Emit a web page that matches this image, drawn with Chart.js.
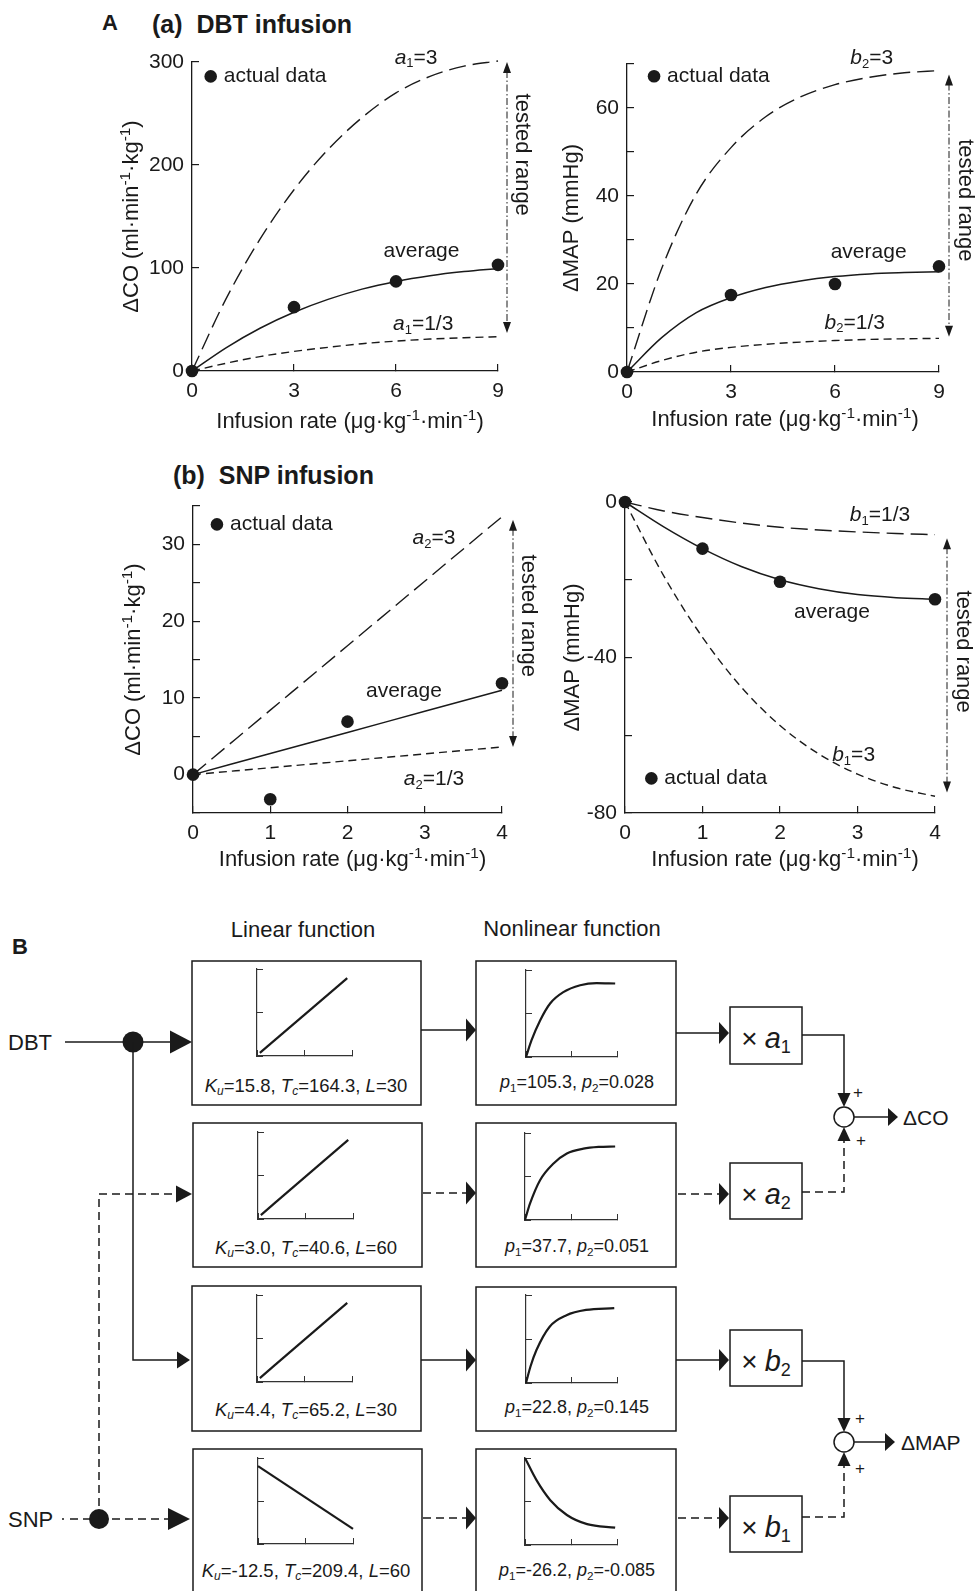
<!DOCTYPE html>
<html><head><meta charset="utf-8">
<script src="https://cdn.jsdelivr.net/npm/chart.js@4.4.0/dist/chart.umd.min.js"></script>
<style>
html,body{margin:0;padding:0;background:#fff;}
#page{position:relative;width:977px;height:1591px;overflow:hidden;background:#fff;}
canvas{position:absolute;}
#ov{position:absolute;left:0;top:0;}
</style></head>
<body><div id="page"><svg id="ov" width="977" height="1591" xmlns="http://www.w3.org/2000/svg"></svg></div>
<script>
// ---------------- DATA ----------------
// (a) DBT infusion
const dbtX      = [0, 1, 2, 3, 4, 5, 6, 7, 8, 9];
const dbtCoAvg  = [0, 22.5, 41.5, 57, 69.5, 79.5, 87, 92.5, 96.5, 99.5];
const dbtCoHi   = [0, 70, 128, 176, 215, 246, 270, 286, 296, 301];      // a1=3
const dbtCoLo   = [0, 7.5, 14, 19, 23, 26.5, 29, 31, 32.3, 33.3];        // a1=1/3
const dbtMapAvg = [0, 7.8, 13.5, 16.9, 19.2, 20.7, 21.7, 22.3, 22.6, 22.8];
const dbtMapHi  = [0, 23.5, 40.5, 51, 58, 62.5, 65.3, 67, 68, 68.5];     // b2=3
const dbtMapLo  = [0, 2.6, 4.5, 5.6, 6.3, 6.8, 7.15, 7.4, 7.55, 7.65];   // b2=1/3
const dbtDotX   = [0, 3, 6, 9];
const dbtCoDots = [0, 62, 87, 103];
const dbtMapDots= [0, 17.5, 20, 24];
// (b) SNP infusion
const snpCoX    = [0, 1, 2, 3, 4];
const snpCoAvg  = [0, 2.75, 5.5, 8.25, 11];
const snpCoHi   = [0, 8.4, 16.8, 25.2, 33.6];   // a2=3
const snpCoLo   = [0, 0.9, 1.8, 2.7, 3.6];      // a2=1/3
const snpMapX   = [0, 0.5, 1, 1.5, 2, 2.5, 3, 3.5, 4];
const snpMapAvg = [0, -6.4, -12, -16.6, -20, -22.3, -23.8, -24.6, -25];
const snpMapLo  = [0, -2.3, -4, -5.4, -6.5, -7.2, -7.7, -8.1, -8.4];        // b1=1/3
const snpMapHi  = [0, -19, -34.8, -47.6, -57.5, -64.8, -70, -73.5, -75.7];  // b1=3
const snpDotX   = [0, 1, 2, 4];
const snpCoDots = [0, -3.2, 6.9, 11.9];
const snpMapDots= [0, -12, -20.5, -25];
// Tick settings
const dbtXTicks = {min: 0, max: 9, step: 3};
const snpXTicks = {min: 0, max: 4, step: 1};
// Part B inset curves (normalised 0..2 axes)
const linX = [0.06, 1.9];
const lin1Y = [0.07, 1.79];
const lin2Y = [0.09, 1.82];
const lin3Y = [0.09, 1.82];
const lin4X = [0, 2.0];
const lin4Y = [1.81, 0.35];
const nl1X = [0, 0.12, 0.31, 0.53, 0.82, 1.19, 1.55, 1.96];
const nl1Y = [0, 0.38, 0.84, 1.23, 1.49, 1.65, 1.70, 1.69];
const nl2X = [0, 0.11, 0.33, 0.62, 0.91, 1.27, 1.6, 1.96];
const nl2Y = [0, 0.38, 0.92, 1.30, 1.53, 1.64, 1.68, 1.69];
const nl3X = [0, 0.1, 0.23, 0.52, 0.89, 1.32, 1.94];
const nl3Y = [0, 0.38, 0.75, 1.28, 1.54, 1.66, 1.70];
const nl4X = [0, 0.25, 0.55, 0.91, 1.35, 1.96];
const nl4Y = [2.0, 1.49, 1.03, 0.69, 0.48, 0.40];

// ---------------- STYLE ----------------
const FONT = '"Liberation Sans", Arial, Helvetica, sans-serif';
const INK = '#1a1a1a';
const FS = 21;     // ticks, curve labels
const TFS = 22;    // axis titles
const page = document.getElementById('page');

function pts(xs, ys){ return xs.map((x,i)=>({x:x, y:ys[i]})); }

function segFont(k, size){
  const s = (k==='sub'||k==='isub') ? size*0.62 : (k==='sup' ? size*0.7 : size);
  const it = (k==='i'||k==='isub') ? 'italic ' : '';
  return it + s + 'px ' + FONT;
}
function drawRich(ctx, segs, x, y, size, align){
  ctx.textBaseline = 'middle'; ctx.textAlign = 'left';
  let w = 0;
  for (const [t,k] of segs){ ctx.font = segFont(k,size); w += ctx.measureText(t).width; }
  let cx = align==='center' ? x - w/2 : (align==='right' ? x - w : x);
  for (const [t,k] of segs){
    ctx.font = segFont(k,size);
    const dy = (k==='sub'||k==='isub') ? size*0.28 : (k==='sup' ? -size*0.3 : 0);
    ctx.fillText(t, cx, y+dy);
    cx += ctx.measureText(t).width;
  }
}

const CO_TITLE  = [['ΔCO (ml·min','n'],['-1','sup'],['·kg','n'],['-1','sup'],[')','n']];
const MAP_TITLE = [['ΔMAP (mmHg)','n']];
const X_TITLE   = [['Infusion rate (μg·kg','n'],['-1','sup'],['·min','n'],['-1','sup'],[')','n']];

const extrasPlugin = {
  id: 'extras',
  afterDraw(chart, args, o){
    const ctx = chart.ctx, xs = chart.scales.x, ys = chart.scales.y, ca = chart.chartArea;
    ctx.save();
    ctx.fillStyle = INK; ctx.strokeStyle = INK;
    // axis titles
    ctx.save();
    ctx.translate(ca.left - o.yTitleDx, (ca.top+ca.bottom)/2);
    ctx.rotate(-Math.PI/2);
    drawRich(ctx, o.yTitle, 0, 0, TFS, 'center');
    ctx.restore();
    drawRich(ctx, X_TITLE, (ca.left+ca.right)/2 + o.xTitleShift, ca.bottom + o.xTitleDy, TFS, 'center');
    // curve labels
    for (const l of o.labels){
      drawRich(ctx, l.segs, xs.getPixelForValue(l.x), ys.getPixelForValue(l.y), FS, 'center');
    }
    // legend marker
    const lx = xs.getPixelForValue(o.legend.x), ly = ys.getPixelForValue(o.legend.y);
    ctx.beginPath(); ctx.arc(lx, ly, 6.3, 0, Math.PI*2); ctx.fill();
    drawRich(ctx, [['actual data','n']], lx + 13, ly, FS, 'left');
    // tested range arrow
    const r = o.range;
    const ax = ca.right + r.dx;
    const yA = Math.min(ys.getPixelForValue(r.y1), ys.getPixelForValue(r.y2));
    const yB = Math.max(ys.getPixelForValue(r.y1), ys.getPixelForValue(r.y2));
    ctx.lineWidth = 1;
    ctx.setLineDash([7,2.5,1.5,2.5]);
    ctx.beginPath(); ctx.moveTo(ax, yA+9); ctx.lineTo(ax, yB-9); ctx.stroke();
    ctx.setLineDash([]);
    ctx.beginPath(); ctx.moveTo(ax, yA); ctx.lineTo(ax-4, yA+11); ctx.lineTo(ax+4, yA+11); ctx.closePath(); ctx.fill();
    ctx.beginPath(); ctx.moveTo(ax, yB); ctx.lineTo(ax-4, yB-11); ctx.lineTo(ax+4, yB-11); ctx.closePath(); ctx.fill();
    ctx.save();
    ctx.translate(ca.right + r.tdx, ys.getPixelForValue(r.ty));
    ctx.rotate(Math.PI/2);
    drawRich(ctx, [['tested range','n']], 0, 0, 22, 'center');
    ctx.restore();
    ctx.restore();
  }
};

function axisCfg(isY, min, max, step, labelEvery, size){
  return {
    type: 'linear', position: isY ? 'left' : 'bottom', min: min, max: max,
    afterFit: s => { if (isY) s.width = size; else s.height = size; },
    ticks: { stepSize: step, autoSkip: false, maxRotation: 0, padding: 15, color: INK,
      font: {family: FONT, size: FS},
      callback: v => (Math.abs(v % labelEvery) < 1e-9 ? String(v) : '') },
    grid: { display: true, drawOnChartArea: false, drawTicks: true, tickLength: -7, color: INK, lineWidth: 1.2 },
    border: { display: true, color: INK, width: 1.3 }
  };
}

function curveDS(xs, ys, dash, w){
  return { data: pts(xs, ys), showLine: true, borderColor: INK, borderWidth: w, borderDash: dash,
    pointRadius: 0, cubicInterpolationMode: 'monotone', clip: false, fill: false };
}
function dotsDS(xs, ys){
  return { data: pts(xs, ys), showLine: false, pointRadius: 6.3, pointBackgroundColor: INK,
    pointBorderWidth: 0, borderColor: INK, clip: false };
}

function makeChart(box, xAx, yAx, datasets, extras){
  const c = document.createElement('canvas');
  c.width = box.w; c.height = box.h;
  c.style.left = box.l + 'px'; c.style.top = box.t + 'px';
  c.style.width = box.w + 'px'; c.style.height = box.h + 'px';
  page.appendChild(c);
  new Chart(c.getContext('2d'), {
    type: 'scatter',
    data: { datasets: datasets },
    options: {
      responsive: false, animation: false, devicePixelRatio: 1,
      layout: { padding: { left: 0, top: box.pt, right: box.pr, bottom: 0 } },
      plugins: { legend: {display: false}, tooltip: {enabled: false}, extras: extras },
      scales: { x: xAx, y: yAx }
    },
    plugins: [extrasPlugin]
  });
}

const LONG = [17,7], SHORT = [8,5];
function lab(letter, idx, rest){ return [[letter,'i'],[idx,'sub'],[rest,'n']]; }

// (a) left: ΔCO, DBT
makeChart({l:90, t:30, w:450, h:420, pt:32, pr:42},
  axisCfg(false, dbtXTicks.min, dbtXTicks.max, dbtXTicks.step, 3, 79),
  axisCfg(true, 0, 300, 100, 100, 102),
  [dotsDS(dbtDotX, dbtCoDots), curveDS(dbtX, dbtCoAvg, [], 1.5), curveDS(dbtX, dbtCoHi, LONG, 1.4), curveDS(dbtX, dbtCoLo, SHORT, 1.4)],
  { yTitle: CO_TITLE, yTitleDx: 60, xTitleDy: 51, xTitleShift: 5,
    labels: [ {segs: lab('a','1','=3'), x: 6.59, y: 304},
              {segs: [['average','n']], x: 6.75, y: 116},
              {segs: lab('a','1','=1/3'), x: 6.8, y: 45} ],
    legend: {x: 0.55, y: 286},
    range: {y1: 300, y2: 37, dx: 9, ty: 210, tdx: 24} });

// (a) right: ΔMAP, DBT
makeChart({l:540, t:30, w:437, h:420, pt:34, pr:38},
  axisCfg(false, dbtXTicks.min, dbtXTicks.max, dbtXTicks.step, 3, 78),
  axisCfg(true, 0, 70, 10, 20, 87),
  [dotsDS(dbtDotX, dbtMapDots), curveDS(dbtX, dbtMapAvg, [], 1.5), curveDS(dbtX, dbtMapHi, LONG, 1.4), curveDS(dbtX, dbtMapLo, SHORT, 1.4)],
  { yTitle: MAP_TITLE, yTitleDx: 55, xTitleDy: 48, xTitleShift: 2,
    labels: [ {segs: lab('b','2','=3'), x: 7.06, y: 71.3},
              {segs: [['average','n']], x: 6.97, y: 27.3},
              {segs: lab('b','2','=1/3'), x: 6.57, y: 11.2} ],
    legend: {x: 0.78, y: 67.2},
    range: {y1: 67.6, y2: 8, dx: 10, ty: 39, tdx: 26} });

// (b) left: ΔCO, SNP
makeChart({l:90, t:460, w:450, h:420, pt:46, pr:38},
  axisCfg(false, snpXTicks.min, snpXTicks.max, snpXTicks.step, 1, 67),
  axisCfg(true, -5, 35, 5, 10, 103),
  [dotsDS(snpDotX, snpCoDots), curveDS(snpCoX, snpCoAvg, [], 1.5), curveDS(snpCoX, snpCoHi, LONG, 1.4), curveDS(snpCoX, snpCoLo, SHORT, 1.4)],
  { yTitle: CO_TITLE, yTitleDx: 59, xTitleDy: 47, xTitleShift: 5,
    labels: [ {segs: lab('a','2','=3'), x: 3.12, y: 30.8},
              {segs: [['average','n']], x: 2.73, y: 10.9},
              {segs: lab('a','2','=1/3'), x: 3.12, y: -0.6} ],
    legend: {x: 0.31, y: 32.6},
    range: {y1: 33.2, y2: 3.6, dx: 11, ty: 20.7, tdx: 26} });

// (b) right: ΔMAP, SNP
makeChart({l:540, t:460, w:437, h:420, pt:42, pr:42},
  axisCfg(false, snpXTicks.min, snpXTicks.max, snpXTicks.step, 1, 67),
  axisCfg(true, -80, 0, 20, 40, 85),
  [dotsDS(snpDotX, snpMapDots), curveDS(snpMapX, snpMapAvg, [], 1.5), curveDS(snpMapX, snpMapLo, LONG, 1.4), curveDS(snpMapX, snpMapHi, SHORT, 1.4)],
  { yTitle: MAP_TITLE, yTitleDx: 52, xTitleDy: 47, xTitleShift: 5,
    labels: [ {segs: lab('b','1','=1/3'), x: 3.29, y: -3.4},
              {segs: [['average','n']], x: 2.67, y: -28.3},
              {segs: lab('b','1','=3'), x: 2.95, y: -65.2} ],
    legend: {x: 0.34, y: -71.1},
    range: {y1: -9.3, y2: -74.7, dx: 12, ty: -38.5, tdx: 28} });

// ---------------- Part B insets ----------------
function inset(ax, top, right, bottom, xs, ys){
  const m = 4;
  const w = right - ax + 2*m, h = bottom - top + 2*m;
  const c = document.createElement('canvas');
  c.width = w; c.height = h;
  c.style.left = (ax - m) + 'px'; c.style.top = (top - m) + 'px';
  c.style.width = w + 'px'; c.style.height = h + 'px';
  page.appendChild(c);
  const ax2 = (isY) => ({
    type: 'linear', position: isY ? 'left' : 'bottom', min: 0, max: 2,
    afterFit: s => { if (isY) s.width = m; else s.height = m; },
    ticks: { display: false, stepSize: 1 },
    grid: { display: true, drawOnChartArea: false, drawTicks: true, tickLength: -6, color: '#333', lineWidth: 1 },
    border: { display: true, color: '#333', width: 1.2 }
  });
  new Chart(c.getContext('2d'), {
    type: 'scatter',
    data: { datasets: [ { data: pts(xs, ys), showLine: true, borderColor: INK, borderWidth: 2.2,
      pointRadius: 0, cubicInterpolationMode: 'monotone', clip: false } ] },
    options: { responsive: false, animation: false, devicePixelRatio: 1,
      layout: { padding: { left: 0, top: m, right: m, bottom: 0 } },
      plugins: { legend: {display: false}, tooltip: {enabled: false} },
      scales: { x: ax2(false), y: ax2(true) } }
  });
}
inset(257, 969, 352, 1056, linX, lin1Y);
inset(258, 1132, 353, 1219, linX, lin2Y);
inset(257, 1295, 352, 1382, linX, lin3Y);
inset(258, 1458, 353, 1544, lin4X, lin4Y);
inset(526, 970, 617, 1057, nl1X, nl1Y);
inset(525, 1133, 617, 1220, nl2X, nl2Y);
inset(526, 1295, 617, 1383, nl3X, nl3Y);
inset(525, 1458, 617, 1545, nl4X, nl4Y);

// ---------------- Overlay (titles + block diagram) ----------------
let s = '';
const SF = "'Liberation Sans', Arial, Helvetica, sans-serif";
function rich(x, y, segs, size, anchor, weight){
  let out = `<text x="${x}" y="${y}" font-family="${SF}" font-size="${size}" text-anchor="${anchor||'start'}" dominant-baseline="central" fill="${INK}" font-weight="${weight||'normal'}">`;
  let shift = 0;
  for (const seg of segs){
    const [t, k, sz] = seg;
    const small = (k==='sub'||k==='sup'||k==='isub');
    const target = (k==='sub'||k==='isub') ? size*0.3 : (k==='sup' ? -size*0.33 : 0);
    const dy = target - shift; shift = target;
    const fsz = sz ? sz : (small ? size*0.65 : size);
    const it = (k==='i'||k==='isub') ? ' font-style="italic"' : '';
    out += `<tspan dy="${dy.toFixed(2)}" font-size="${fsz}"${it}>${t}</tspan>`;
  }
  return out + '</text>';
}
function line(p, dashed){
  s += `<polyline points="${p.map(q=>q.join(',')).join(' ')}" fill="none" stroke="${INK}" stroke-width="1.5"${dashed ? ' stroke-dasharray="8 5"' : ''}/>`;
}
function head(x, y, dir, len, half){
  let p;
  if (dir==='r') p = [[x,y],[x-len,y-half],[x-len,y+half]];
  else if (dir==='d') p = [[x,y],[x-half,y-len],[x+half,y-len]];
  else p = [[x,y],[x-half,y+len],[x+half,y+len]];
  s += `<polygon points="${p.map(q=>q.join(',')).join(' ')}" fill="${INK}"/>`;
}
function rect(x1, y1, x2, y2){
  s += `<rect x="${x1}" y="${y1}" width="${x2-x1}" height="${y2-y1}" fill="none" stroke="${INK}" stroke-width="1.5"/>`;
}

// Part A titles
s += rich(102, 22, [['A','n']], 22, 'start', 'bold');
s += rich(152, 24, [['(a)\u00a0\u00a0DBT infusion','n']], 25, 'start', 'bold');
s += rich(173, 475, [['(b)\u00a0\u00a0SNP infusion','n']], 25, 'start', 'bold');

// Part B
s += rich(12, 946, [['B','n']], 22, 'start', 'bold');
s += rich(303, 929, [['Linear function','n']], 22, 'middle');
s += rich(572, 928, [['Nonlinear function','n']], 22, 'middle');
s += rich(8, 1042, [['DBT','n']], 22, 'start');
s += rich(8, 1519, [['SNP','n']], 22, 'start');

// boxes
rect(192, 961, 421, 1105); rect(193, 1123, 422, 1267); rect(192, 1286, 421, 1431); rect(193, 1449, 422, 1600);
rect(476, 961, 676, 1105); rect(476, 1123, 676, 1267); rect(476, 1287, 676, 1431); rect(476, 1449, 676, 1600);
rect(730, 1007, 802, 1064); rect(730, 1163, 802, 1219); rect(730, 1330, 802, 1386); rect(730, 1496, 802, 1552);

// box labels
const lin = (k, t, l) => [['K','i'],['u','isub'],['='+k+', ','n'],['T','i'],['c','isub'],['='+t+', ','n'],['L','i'],['='+l,'n']];
const nl = (a, b) => [['p','i'],['1','sub'],['='+a+', ','n'],['p','i'],['2','sub'],['='+b,'n']];
s += rich(306, 1085, lin('15.8','164.3','30'), 18.5, 'middle');
s += rich(306, 1247, lin('3.0','40.6','60'), 18.5, 'middle');
s += rich(306, 1409, lin('4.4','65.2','30'), 18.5, 'middle');
s += rich(306, 1570, lin('-12.5','209.4','60'), 18.5, 'middle');
s += rich(577, 1082, nl('105.3','0.028'), 18, 'middle');
s += rich(577, 1246, nl('37.7','0.051'), 18, 'middle');
s += rich(577, 1407, nl('22.8','0.145'), 18, 'middle');
s += rich(577, 1570, nl('-26.2','-0.085'), 18, 'middle');

// multipliers
const mul = (c, i) => [['×','n',28],['\u00a0','n',26],[c,'i'],[i,'sub',18]];
s += rich(766, 1038, mul('a','1'), 29, 'middle');
s += rich(766, 1194, mul('a','2'), 29, 'middle');
s += rich(766, 1361, mul('b','2'), 29, 'middle');
s += rich(766, 1527, mul('b','1'), 29, 'middle');

// DBT input
line([[65,1042],[170,1042]]); head(192, 1042, 'r', 22, 11.5);
s += `<circle cx="133" cy="1042" r="10.5" fill="${INK}"/>`;
line([[133,1042],[133,1360],[178,1360]]); head(190, 1360, 'r', 13, 8.5);
// SNP input
s += `<line x1="62" y1="1519" x2="64" y2="1519" stroke="${INK}" stroke-width="1.5"/>`;
line([[70,1519],[99,1519]], true);
line([[99,1519],[170,1519]], true); head(190, 1519, 'r', 22, 11);
s += `<circle cx="99" cy="1519" r="10" fill="${INK}"/>`;
line([[99,1519],[99,1194],[176,1194]], true); head(192, 1194, 'r', 16, 8.5);

// linear -> nonlinear
line([[421,1030],[466,1030]]); head(476, 1030, 'r', 10, 11.5);
line([[423,1193],[466,1193]], true); head(476, 1193, 'r', 10, 11.5);
line([[421,1360],[466,1360]]); head(476, 1360, 'r', 10, 11.5);
line([[423,1518],[466,1518]], true); head(476, 1518, 'r', 10, 11.5);
// nonlinear -> multiplier
line([[676,1033],[719,1033]]); head(729, 1033, 'r', 10, 11);
line([[678,1194],[719,1194]], true); head(729, 1194, 'r', 10, 11);
line([[676,1360],[719,1360]]); head(729, 1360, 'r', 10, 11);
line([[678,1518],[719,1518]], true); head(729, 1518, 'r', 10, 11);

// summing junction ΔCO
line([[802,1035],[844,1035],[844,1094]]); head(844, 1107, 'd', 14, 6.5);
line([[802,1192],[844,1192],[844,1141]], true); head(844, 1127, 'u', 14, 6.5);
s += `<circle cx="844" cy="1117" r="10" fill="#fff" stroke="${INK}" stroke-width="1.5"/>`;
line([[854,1117],[889,1117]]); head(898, 1117, 'r', 10, 9);
s += rich(858, 1092, [['+','n']], 17, 'middle');
s += rich(861, 1140, [['+','n']], 17, 'middle');
s += rich(903, 1117, [['ΔCO','n']], 21, 'start');

// summing junction ΔMAP
line([[802,1361],[844,1361],[844,1419]]); head(844, 1432, 'd', 14, 6.5);
line([[802,1517],[844,1517],[844,1466]], true); head(844, 1452, 'u', 14, 6.5);
s += `<circle cx="844" cy="1442" r="10" fill="#fff" stroke="${INK}" stroke-width="1.5"/>`;
line([[854,1442],[886,1442]]); head(895, 1442, 'r', 10, 9);
s += rich(860, 1418, [['+','n']], 17, 'middle');
s += rich(860, 1468, [['+','n']], 17, 'middle');
s += rich(901, 1442, [['ΔMAP','n']], 21, 'start');

document.getElementById('ov').innerHTML = s;
</script>
</body></html>
